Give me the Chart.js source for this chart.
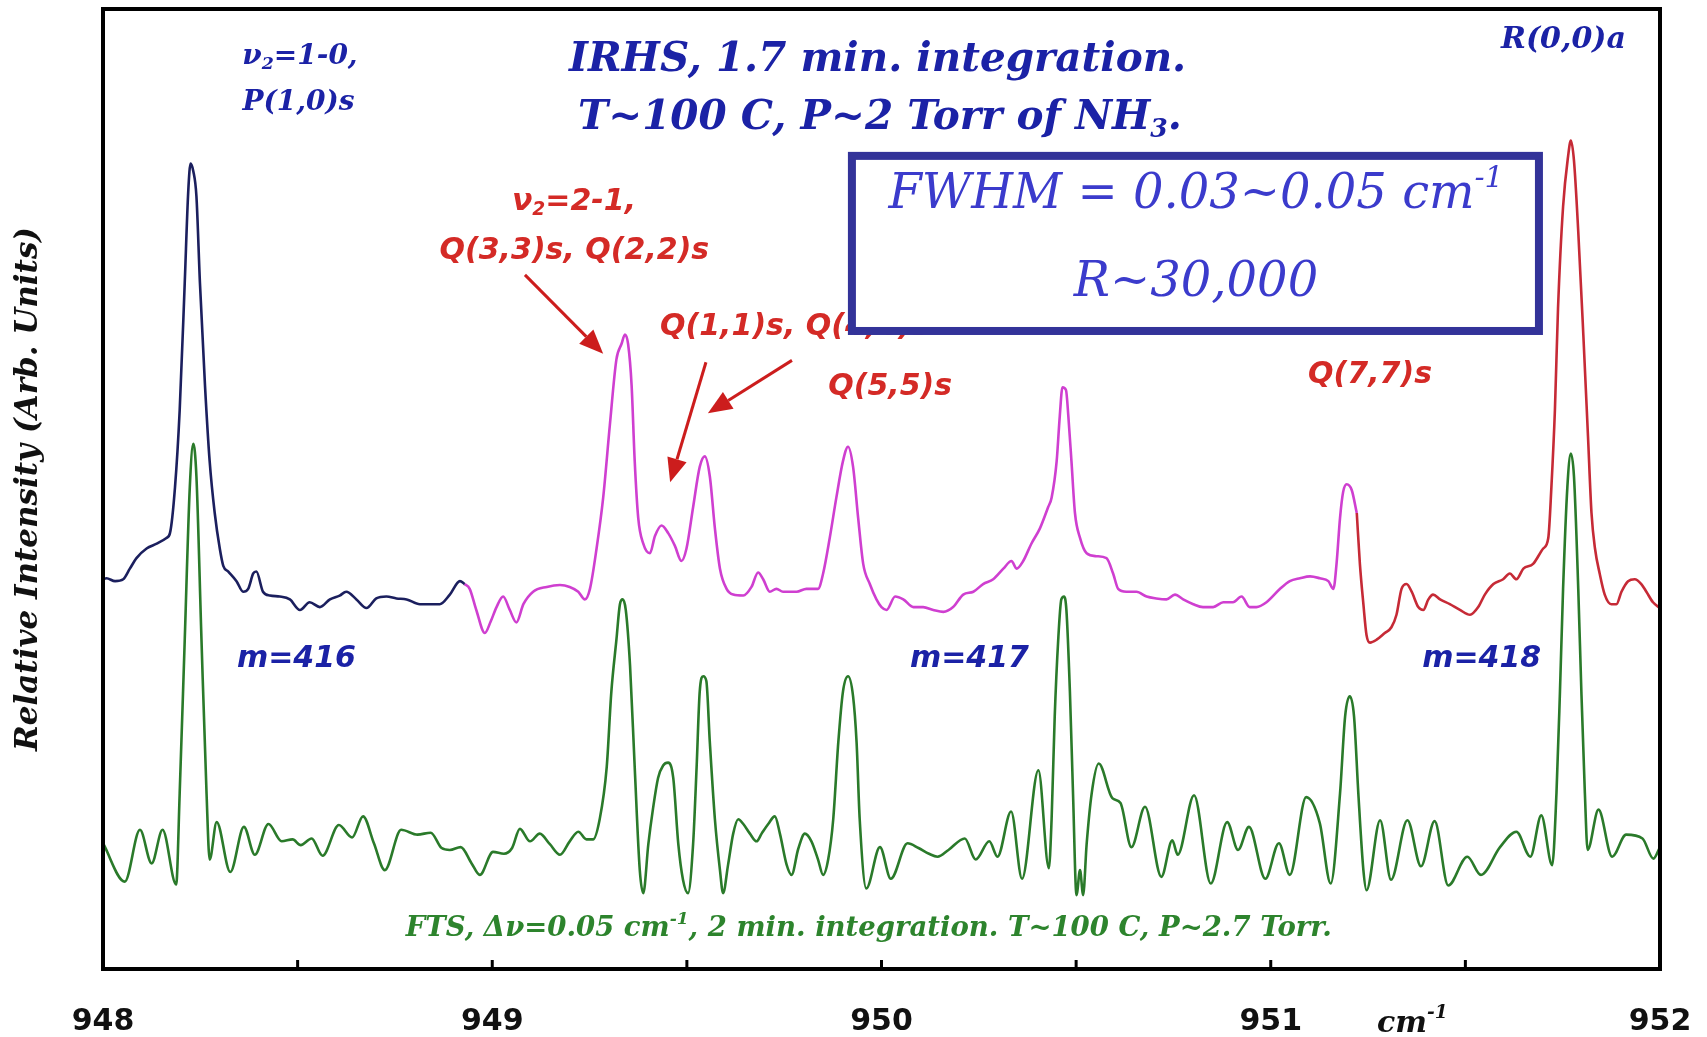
<!DOCTYPE html>
<html>
<head>
<meta charset="utf-8">
<title>IRHS vs FTS spectrum of NH3</title>
<script src="https://cdn.jsdelivr.net/npm/chart.js@4.4.1/dist/chart.umd.min.js"></script>
<style>
  html, body { margin: 0; padding: 0; background: #fff; }
  #wrap { width: 1707px; height: 1037px; }
</style>
</head>
<body>
<div id="wrap"><canvas id="spectrum"></canvas></div>
<script>
// IRHS trace, split where the colour changes (wavenumber cm-1, relative intensity)
const navyTrace = [
  [948.000, 40.6], [948.009, 40.7], [948.031, 40.4], [948.052, 40.6], [948.069, 41.7],
  [948.086, 42.8], [948.112, 43.8], [948.138, 44.3], [948.163, 44.9], [948.172, 45.4],
  [948.185, 50.2], [948.197, 58.2], [948.210, 71.5], [948.219, 81.0], [948.225, 83.9],
  [948.232, 83.1], [948.240, 80.5], [948.249, 71.5], [948.262, 60.8], [948.274, 52.9],
  [948.287, 47.5], [948.300, 43.8], [948.309, 42.0], [948.322, 41.4], [948.343, 40.4],
  [948.360, 39.3], [948.373, 39.6], [948.386, 41.2], [948.394, 41.4], [948.411, 39.3],
  [948.429, 38.9], [948.454, 38.8], [948.480, 38.5], [948.506, 37.4], [948.531, 38.2],
  [948.557, 37.7], [948.583, 38.5], [948.608, 38.9], [948.625, 39.3], [948.651, 38.5],
  [948.677, 37.6], [948.702, 38.6], [948.728, 38.8], [948.754, 38.6], [948.780, 38.5],
  [948.814, 38.0], [948.848, 38.0], [948.865, 38.0], [948.891, 39.0], [948.917, 40.4],
  [948.929, 40.1]
];
const magentaTrace = [
  [948.929, 40.1], [948.942, 39.6], [948.959, 37.4], [948.981, 35.0], [948.996, 36.2],
  [949.011, 37.7], [949.028, 38.8], [949.045, 37.4], [949.062, 36.1], [949.080, 38.0],
  [949.105, 39.3], [949.140, 39.8], [949.174, 40.0], [949.199, 39.8], [949.221, 39.3],
  [949.238, 38.5], [949.251, 39.6], [949.268, 43.8], [949.285, 49.1], [949.302, 56.6],
  [949.319, 63.5], [949.332, 65.1], [949.341, 66.1], [949.349, 65.1], [949.358, 60.8],
  [949.366, 52.9], [949.375, 47.0], [949.388, 44.3], [949.405, 43.3], [949.418, 45.1],
  [949.435, 46.2], [949.452, 45.4], [949.469, 44.1], [949.486, 42.5], [949.499, 43.8],
  [949.516, 48.1], [949.533, 52.3], [949.546, 53.4], [949.559, 51.3], [949.572, 45.9],
  [949.585, 41.7], [949.602, 39.6], [949.619, 39.0], [949.645, 38.9], [949.666, 39.8],
  [949.683, 41.3], [949.696, 40.6], [949.713, 39.3], [949.730, 39.6], [949.747, 39.3],
  [949.782, 39.3], [949.807, 39.6], [949.837, 39.6], [949.850, 41.2], [949.867, 44.9],
  [949.884, 49.1], [949.901, 52.9], [949.914, 54.4], [949.927, 52.3], [949.940, 47.0],
  [949.953, 42.2], [949.970, 40.1], [949.987, 38.5], [950.000, 37.7], [950.013, 37.4],
  [950.035, 38.8], [950.056, 38.5], [950.082, 37.7], [950.107, 37.7], [950.133, 37.4],
  [950.159, 37.2], [950.184, 37.7], [950.210, 39.0], [950.236, 39.3], [950.261, 40.1],
  [950.287, 40.6], [950.313, 41.7], [950.334, 42.5], [950.347, 41.7], [950.364, 42.5],
  [950.385, 44.3], [950.407, 45.9], [950.428, 48.1], [950.437, 49.1], [950.450, 52.9],
  [950.458, 57.6], [950.465, 60.6], [950.474, 60.3], [950.480, 57.6], [950.488, 52.9],
  [950.497, 47.5], [950.510, 44.9], [950.527, 43.3], [950.552, 43.0], [950.578, 42.8],
  [950.595, 41.2], [950.608, 39.6], [950.629, 39.3], [950.655, 39.3], [950.681, 38.8],
  [950.706, 38.6], [950.732, 38.5], [950.754, 39.0], [950.775, 38.5], [950.801, 38.0],
  [950.826, 37.7], [950.852, 37.7], [950.878, 38.2], [950.903, 38.2], [950.925, 38.8],
  [950.946, 37.7], [950.963, 37.7], [950.989, 38.2], [951.024, 39.6], [951.049, 40.4],
  [951.075, 40.7], [951.101, 40.9], [951.126, 40.7], [951.148, 40.4], [951.161, 39.6],
  [951.169, 42.2], [951.178, 47.0], [951.186, 49.7], [951.195, 50.5], [951.208, 49.9],
  [951.221, 47.5]
];
const redTrace = [
  [951.221, 47.5], [951.229, 42.2], [951.238, 38.0], [951.246, 34.8], [951.255, 34.0],
  [951.272, 34.3], [951.293, 35.0], [951.310, 35.6], [951.323, 36.9], [951.336, 39.6],
  [951.349, 40.1], [951.362, 39.3], [951.379, 37.7], [951.392, 37.4], [951.405, 38.5],
  [951.417, 39.0], [951.435, 38.5], [951.460, 38.0], [951.486, 37.4], [951.512, 36.9],
  [951.533, 37.7], [951.550, 39.0], [951.572, 40.1], [951.597, 40.6], [951.614, 41.2],
  [951.631, 40.6], [951.649, 41.7], [951.674, 42.2], [951.700, 43.8], [951.713, 44.9],
  [951.721, 50.2], [951.730, 58.2], [951.738, 68.8], [951.751, 79.4], [951.764, 84.7],
  [951.771, 86.3], [951.779, 84.2], [951.790, 76.8], [951.803, 66.1], [951.815, 55.5],
  [951.824, 47.5], [951.833, 43.8], [951.845, 41.2], [951.858, 39.0], [951.875, 38.0],
  [951.888, 38.0], [951.901, 39.3], [951.918, 40.4], [951.935, 40.6], [951.952, 40.1],
  [951.965, 39.3], [951.982, 38.2], [952.000, 37.6]
];
// FTS reference trace
const ftsTrace = [
  [948.000, 13.1], [948.056, 9.1], [948.095, 14.5], [948.125, 11.0], [948.153, 14.5],
  [948.188, 8.8], [948.197, 18.3], [948.210, 34.3], [948.223, 50.2], [948.232, 54.7],
  [948.240, 51.3], [948.253, 34.3], [948.266, 18.3], [948.274, 11.4], [948.292, 15.3],
  [948.327, 10.1], [948.362, 14.8], [948.390, 11.9], [948.425, 15.1], [948.459, 13.3],
  [948.487, 13.5], [948.508, 12.9], [948.536, 13.6], [948.564, 11.8], [948.606, 15.0],
  [948.640, 13.7], [948.668, 15.9], [948.696, 13.1], [948.724, 10.3], [948.766, 14.5],
  [948.808, 14.0], [948.842, 14.2], [948.870, 12.6], [948.891, 12.4], [948.919, 12.7],
  [948.947, 11.0], [948.968, 9.8], [949.002, 12.2], [949.030, 12.0], [949.051, 12.6],
  [949.071, 14.6], [949.097, 13.3], [949.122, 14.1], [949.148, 13.0], [949.174, 11.9],
  [949.199, 13.3], [949.221, 14.3], [949.242, 13.5], [949.259, 13.5], [949.276, 15.6],
  [949.294, 21.0], [949.306, 28.9], [949.319, 34.3], [949.328, 38.0], [949.335, 38.5],
  [949.343, 37.4], [949.354, 31.6], [949.366, 21.0], [949.379, 10.3], [949.388, 7.9],
  [949.401, 13.0], [949.413, 16.7], [949.426, 19.9], [949.439, 21.2], [949.452, 21.5],
  [949.465, 19.9], [949.478, 13.0], [949.490, 9.3], [949.503, 7.9], [949.516, 13.0],
  [949.525, 21.0], [949.533, 28.9], [949.542, 30.5], [949.550, 30.0], [949.559, 23.6],
  [949.572, 15.6], [949.585, 10.3], [949.593, 7.9], [949.606, 10.9], [949.619, 14.1],
  [949.632, 15.6], [949.645, 15.1], [949.662, 14.1], [949.679, 13.3], [949.692, 14.1],
  [949.709, 15.1], [949.726, 15.9], [949.739, 14.1], [949.756, 10.9], [949.769, 9.8],
  [949.786, 12.5], [949.803, 14.1], [949.820, 13.3], [949.837, 11.4], [949.850, 9.8],
  [949.863, 11.4], [949.876, 15.6], [949.889, 23.6], [949.901, 28.9], [949.914, 30.5],
  [949.927, 28.4], [949.936, 23.6], [949.944, 15.6], [949.961, 8.4], [949.996, 12.7],
  [950.024, 9.4], [950.067, 13.1], [950.095, 12.6], [950.122, 12.0], [950.144, 11.7],
  [950.172, 12.4], [950.214, 13.6], [950.242, 11.4], [950.277, 13.3], [950.298, 11.7],
  [950.333, 16.4], [950.361, 9.4], [950.403, 20.7], [950.430, 10.5], [950.437, 15.6],
  [950.445, 26.3], [950.454, 34.3], [950.462, 38.5], [950.469, 38.8], [950.475, 37.4],
  [950.484, 28.9], [950.492, 18.3], [950.501, 7.7], [950.510, 10.3], [950.518, 7.7],
  [950.527, 13.0], [950.540, 18.3], [950.558, 21.4], [950.593, 17.8], [950.614, 17.3],
  [950.642, 12.7], [950.677, 16.9], [950.719, 9.6], [950.747, 13.4], [950.761, 11.9],
  [950.803, 18.1], [950.846, 8.9], [950.888, 15.3], [950.916, 12.4], [950.944, 14.8],
  [950.986, 9.4], [951.021, 13.1], [951.049, 9.8], [951.091, 17.9], [951.126, 15.2],
  [951.154, 8.9], [951.178, 18.3], [951.191, 26.3], [951.203, 28.4], [951.214, 26.3],
  [951.225, 18.3], [951.238, 10.3], [951.246, 8.2], [951.281, 15.5], [951.309, 9.3],
  [951.351, 15.5], [951.386, 10.7], [951.421, 15.4], [951.456, 8.7], [951.505, 11.7],
  [951.540, 9.8], [951.589, 12.7], [951.631, 14.3], [951.667, 11.7], [951.695, 16.0],
  [951.723, 10.8], [951.734, 18.3], [951.743, 28.9], [951.751, 39.6], [951.762, 50.2],
  [951.771, 53.7], [951.779, 51.3], [951.790, 39.6], [951.798, 28.9], [951.807, 18.3],
  [951.814, 12.4], [951.842, 16.6], [951.877, 11.7], [951.913, 14.0], [951.955, 13.6],
  [951.983, 11.5], [952.000, 12.7]
];
const xLabels = [948, 949, 950, 951, 952];

const SERIF = '"DejaVu Serif", serif';
const SANS = '"DejaVu Sans", sans-serif';
const BLUE = '#1b22a6';
const RED = '#d42a26';
const GREEN = '#2d842d';
const BOXBLUE = '#3b3bcc';

// annotation text, anchored in data coordinates; parts are [text, 'sub'|'sup']
const notes = [
  { parts: [['ν'], ['2', 'sub'], ['=1-0,']], x: 948.506, y: 95.0, size: 28, family: SERIF, style: 'italic bold', color: BLUE },
  { parts: [['P(1,0)s']], x: 948.502, y: 90.2, size: 28, family: SERIF, style: 'italic bold', color: BLUE },
  { parts: [['IRHS, 1.7 min. integration.']], x: 949.990, y: 94.6, size: 40.5, family: SERIF, style: 'italic bold', color: BLUE },
  { parts: [['T~100 C, P~2 Torr of NH'], ['3', 'sub'], ['.']], x: 949.996, y: 88.55, size: 40.5, family: SERIF, style: 'italic bold', color: BLUE },
  { parts: [['R(0,0)a']], x: 951.752, y: 96.7, size: 30, family: SERIF, style: 'italic bold', color: BLUE },
  { parts: [['ν'], ['2', 'sub'], ['=2-1,']], x: 949.210, y: 79.9, size: 30, family: SANS, style: 'italic bold', color: RED },
  { parts: [['Q(3,3)s, Q(2,2)s']], x: 949.211, y: 74.8, size: 30, family: SANS, style: 'italic bold', color: RED },
  { parts: [['Q(1,1)s, Q(4,4)s']], x: 949.431, y: 66.9, size: 30, family: SANS, style: 'italic bold', color: RED, align: 'left' },
  { parts: [['Q(5,5)s']], x: 949.863, y: 60.6, size: 30, family: SANS, style: 'italic bold', color: RED, align: 'left' },
  { parts: [['Q(7,7)s']], x: 951.096, y: 61.9, size: 30, family: SANS, style: 'italic bold', color: RED, align: 'left' },
  { parts: [['m=416']], x: 948.344, y: 32.3, size: 30, family: SANS, style: 'italic bold', color: BLUE, align: 'left' },
  { parts: [['m=417']], x: 950.073, y: 32.3, size: 30, family: SANS, style: 'italic bold', color: BLUE, align: 'left' },
  { parts: [['m=418']], x: 951.389, y: 32.3, size: 30, family: SANS, style: 'italic bold', color: BLUE, align: 'left' },
  { parts: [['FTS, Δν=0.05 cm'], ['-1', 'sup'], [', 2 min. integration. T~100 C, P~2.7 Torr.']], x: 948.778, y: 4.2, size: 27.5, family: SERIF, style: 'italic bold', color: GREEN, align: 'left' },
  { parts: [['cm'], ['-1', 'sup']], x: 951.273, y: -5.7, size: 30, family: SERIF, style: 'italic bold', color: '#111', align: 'left' }
];
const boxNotes = [
  { parts: [['FWHM = 0.03~0.05 cm'], ['-1', 'sup']], x: 950.808, y: 80.6, size: 48, family: SERIF, style: 'italic', color: BOXBLUE },
  { parts: [['R~30,000']], x: 950.808, y: 71.4, size: 48, family: SERIF, style: 'italic', color: BOXBLUE }
];
// box corners (x1, y1, x2, y2) and arrows (from x, y to x, y)
const resBox = [949.924, 84.7, 951.689, 66.46];
const arrows = [
  [949.084, 72.3, 949.285, 64.1],
  [949.549, 63.2, 949.457, 50.7],
  [949.770, 63.4, 949.554, 57.9]
];

function drawRich(ctx, note, px, py) {
  const font = (k) => `${note.style} ${k ? note.size * 0.62 : note.size}px ${note.family}`;
  let total = 0;
  const widths = note.parts.map(([t, k]) => {
    ctx.font = font(k);
    const w = ctx.measureText(t).width;
    total += w;
    return w;
  });
  let x = note.align === 'left' ? px : px - total / 2;
  ctx.fillStyle = note.color;
  ctx.textAlign = 'left';
  ctx.textBaseline = 'middle';
  note.parts.forEach(([t, k], i) => {
    ctx.font = font(k);
    const dy = k === 'sub' ? note.size * 0.28 : k === 'sup' ? -note.size * 0.34 : 0;
    ctx.fillText(t, x, py + dy);
    x += widths[i];
  });
}

function drawArrow(ctx, x1, y1, x2, y2) {
  const ang = Math.atan2(y2 - y1, x2 - x1);
  const len = 24, half = 10;
  ctx.strokeStyle = '#cc1d1d';
  ctx.fillStyle = '#cc1d1d';
  ctx.lineWidth = 3;
  ctx.beginPath();
  ctx.moveTo(x1, y1);
  ctx.lineTo(x2 - len * Math.cos(ang), y2 - len * Math.sin(ang));
  ctx.stroke();
  ctx.beginPath();
  ctx.moveTo(x2, y2);
  ctx.lineTo(x2 - len * Math.cos(ang) + half * Math.sin(ang), y2 - len * Math.sin(ang) - half * Math.cos(ang));
  ctx.lineTo(x2 - len * Math.cos(ang) - half * Math.sin(ang), y2 - len * Math.sin(ang) + half * Math.cos(ang));
  ctx.closePath();
  ctx.fill();
}

const overlay = {
  id: 'overlay',
  afterDraw(chart) {
    const { ctx, chartArea: a, scales: { x, y } } = chart;
    ctx.save();

    // inward tick marks on the bottom axis
    ctx.strokeStyle = '#000';
    ctx.lineWidth = 3;
    x.ticks.forEach(t => {
      const px = x.getPixelForValue(t.value);
      ctx.beginPath();
      ctx.moveTo(px, a.bottom);
      ctx.lineTo(px, a.bottom - 9);
      ctx.stroke();
    });

    arrows.forEach(([x1, y1, x2, y2]) => drawArrow(ctx,
      x.getPixelForValue(x1), y.getPixelForValue(y1),
      x.getPixelForValue(x2), y.getPixelForValue(y2)));

    notes.forEach(n => drawRich(ctx, n, x.getPixelForValue(n.x), y.getPixelForValue(n.y)));

    // resolution box
    const bx1 = x.getPixelForValue(resBox[0]), by1 = y.getPixelForValue(resBox[1]);
    const bx2 = x.getPixelForValue(resBox[2]), by2 = y.getPixelForValue(resBox[3]);
    ctx.fillStyle = '#fff';
    ctx.fillRect(bx1, by1, bx2 - bx1, by2 - by1);
    ctx.strokeStyle = '#333399';
    ctx.lineWidth = 8;
    ctx.strokeRect(bx1, by1, bx2 - bx1, by2 - by1);
    boxNotes.forEach(n => drawRich(ctx, n, x.getPixelForValue(n.x), y.getPixelForValue(n.y)));

    // plot frame
    ctx.strokeStyle = '#000';
    ctx.lineWidth = 4;
    ctx.strokeRect(a.left, a.top, a.right - a.left, a.bottom - a.top);
    ctx.restore();
  }
};

const trace = (label, pts, color) => ({
  label,
  data: pts.map(([x, y]) => ({ x, y })),
  borderColor: color,
  borderWidth: 2.6,
  pointRadius: 0,
  fill: false,
  cubicInterpolationMode: 'monotone'
});

new Chart(document.getElementById('spectrum'), {
  type: 'line',
  data: {
    datasets: [
      trace('FTS', ftsTrace, '#2a7a2a'),
      trace('IRHS v2=1-0', navyTrace, '#1b1f5e'),
      trace('IRHS v2=2-1', magentaTrace, '#cf3fd0'),
      trace('IRHS R(0,0)a', redTrace, '#c62a36')
    ]
  },
  options: {
    responsive: true,
    maintainAspectRatio: false,
    animation: false,
    events: [],
    layout: { padding: { top: 9, right: 47, bottom: 0, left: 0 } },
    plugins: { legend: { display: false }, tooltip: { enabled: false } },
    scales: {
      x: {
        type: 'linear',
        min: 948,
        max: 952,
        grid: { display: false, drawTicks: false },
        border: { display: false },
        ticks: {
          stepSize: 0.5,
          autoSkip: false,
          maxRotation: 0,
          padding: 35,
          color: '#111',
          font: { family: SANS, size: 30, weight: 'bold' },
          callback: v => xLabels.includes(v) ? String(v) : ''
        },
        afterFit: s => { s.height = 68; s.paddingLeft = 0; s.paddingRight = 0; }
      },
      y: {
        min: 0,
        max: 100,
        grid: { display: false, drawTicks: false },
        border: { display: false },
        ticks: { display: false },
        title: {
          display: true,
          text: 'Relative Intensity (Arb. Units)',
          color: '#111',
          font: { family: SERIF, size: 31, weight: 'bold', style: 'italic' },
          padding: { top: 10, bottom: 0 }
        },
        afterFit: s => { s.width = 103; }
      }
    }
  },
  plugins: [overlay]
});
</script>
</body>
</html>
